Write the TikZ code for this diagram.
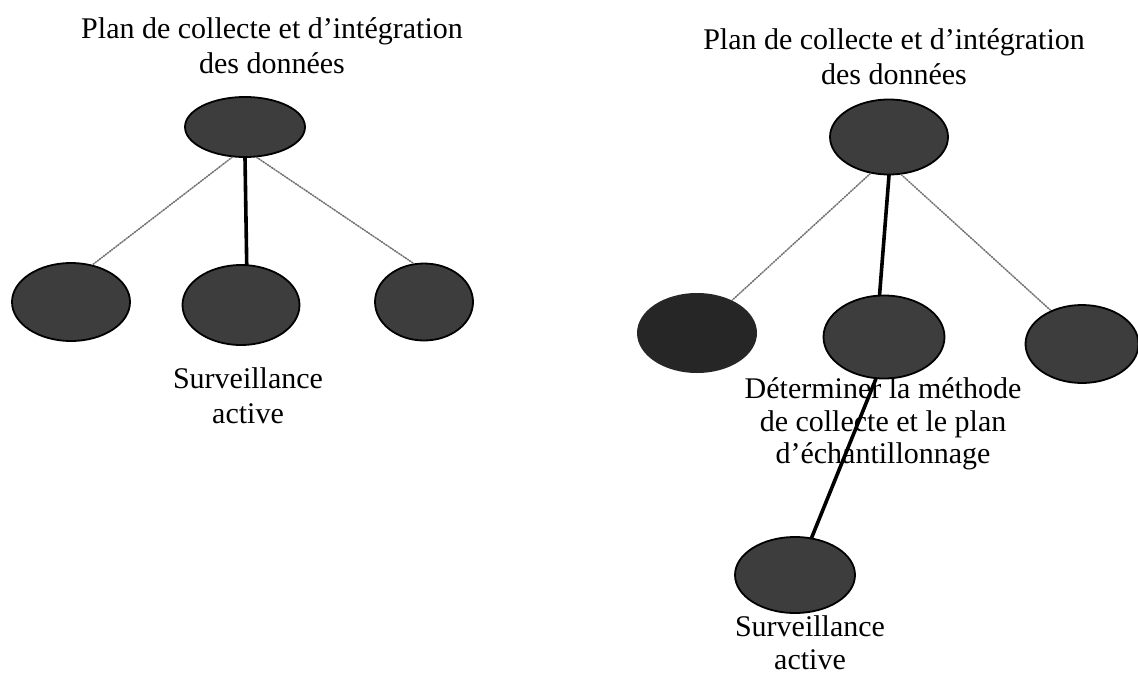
\documentclass[tikz,border=0pt]{standalone}
\usepackage{fontspec}
\setmainfont{Liberation Serif}
\usetikzlibrary{shapes.geometric}

\begin{document}
\begin{tikzpicture}[line cap=round, x=0.5pt, y=-0.5pt,
    blob/.style={ellipse, draw=black, line width=0.9pt, fill=black!76, inner sep=0pt},
    link/.style={line width=1.8pt, black},
    weak/.style={line width=0.8pt, black!55, dash pattern=on 0.6pt off 0.7pt},
    txt/.style={inner sep=0pt, align=center, font=\fontsize{15}{17.5}\selectfont}]

    \useasboundingbox (0,0) rectangle (1138,674);

    % first tree
    \node[txt] (ltitle) at (272,46) {Plan de collecte et d’intégration\\des données};
    \node[blob, minimum width=60pt, minimum height=30pt] (lt) at (245,127) {};
    \node[blob, minimum width=59pt, minimum height=39pt] (ll) at (71,302) {};
    \node[blob, minimum width=58.5pt, minimum height=40pt] (lm) at (241,305) {};
    \node[blob, minimum width=49pt, minimum height=38.5pt] (lr) at (424,302) {};
    \node[txt] (lsurv) at (248,396) {Surveillance\\active};

    \draw[weak] (lt.247) -- (ll.60);
    \draw[link] (lt.south) -- (lm.82);
    \draw[weak] (lt.291) -- (lr.105);

    % second tree
    \node[txt] (rtitle) at (894,57) {Plan de collecte et d’intégration\\des données};
    \node[blob, minimum width=59pt, minimum height=37.5pt] (rt) at (889,137) {};
    \node[ellipse, fill=black!85, inner sep=0pt, minimum width=60pt, minimum height=40pt] (rl) at (697,333) {};
    \node[blob, minimum width=60.5pt, minimum height=41.5pt] (rm) at (884,337) {};
    \node[blob, minimum width=56.5pt, minimum height=39pt] (rr) at (1082,344) {};
    \node[txt, font=\fontsize{15}{16.3}\selectfont] (rdet) at (883,424) {Déterminer la méthode\\de collecte et le plan\\d’échantillonnage};
    \node[blob, minimum width=60pt, minimum height=38pt] (rb) at (795,575) {};
    \node[txt, font=\fontsize{15}{16.5}\selectfont] (rsurv) at (810,643) {Surveillance\\active};

    \draw[weak] (rt.243) -- (rl.43);
    \draw[link] (rt.south) -- (rm.96);
    \draw[weak] (rt.288) -- (rr.133);
    \draw[link] (rm.259) -- (rb.66);
    %\draw[link] (rm.south) -- (rb.north);

\end{tikzpicture}
\end{document}
